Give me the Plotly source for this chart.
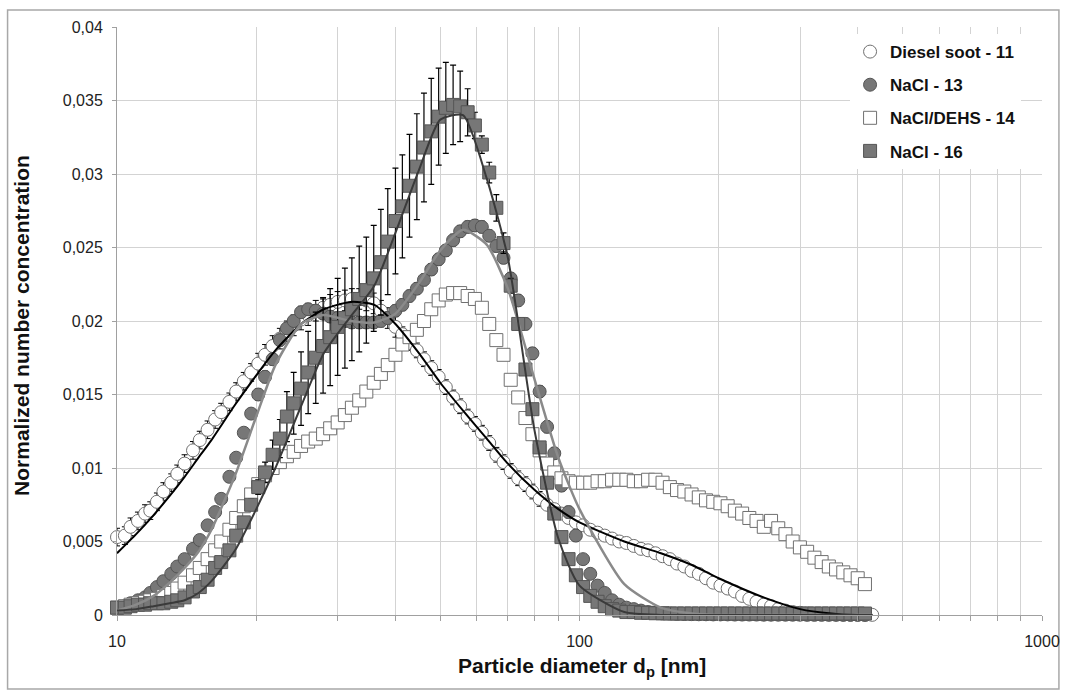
import plotly.graph_objects as go

# ---------------- data ----------------
diam = [10.0, 10.4, 10.7, 11.1, 11.5, 11.8, 12.2, 12.6, 13.1, 13.5,
        14.0, 14.6, 15.1, 15.7, 16.3, 16.8, 17.5, 18.1, 18.8, 19.5,
        20.2, 20.9, 21.7, 22.5, 23.3, 24.1, 25.0, 25.9, 26.9, 27.9,
        28.9, 30.0, 31.1, 32.2, 33.4, 34.6, 35.9, 37.2, 38.5, 40.0,
        41.4, 42.9, 44.5, 46.1, 47.8, 49.6, 51.4, 53.3, 55.2, 57.3,
        59.4, 61.5, 63.8, 66.1, 68.5, 71.0, 73.7, 76.4, 79.1, 82.0,
        85.1, 88.2, 91.4, 94.7, 98.2, 101.8, 105.5, 109.4, 113.4, 117.6,
        121.9, 126.3, 131.0, 135.8, 140.7, 145.9, 151.2, 156.8, 162.5, 168.5,
        174.7, 181.1, 187.7, 194.6, 201.7, 209.1, 216.7, 224.7, 232.9, 241.4,
        250.3, 259.5, 269.0, 278.8, 289.0, 299.6, 310.6, 322.0, 333.8, 346.0,
        358.7, 371.8, 385.4, 399.5, 414.2, 429.4]

diesel_soot_11 = [0.0053, 0.0054, 0.0060, 0.0064, 0.0069, 0.0071, 0.0077, 0.0084, 0.0090, 0.0096,
                  0.0103, 0.0112, 0.0119, 0.0126, 0.0133, 0.0138, 0.0145, 0.0152, 0.0159, 0.0165,
                  0.0171, 0.0177, 0.0183, 0.0188, 0.0193, 0.0197, 0.0201, 0.0204, 0.0207, 0.0209,
                  0.0211, 0.0213, 0.0214, 0.0215, 0.0215, 0.0214, 0.0212, 0.0207, 0.0202, 0.0196,
                  0.0191, 0.0185, 0.0180, 0.0174, 0.0168, 0.0162, 0.0155, 0.0148, 0.0142, 0.0135,
                  0.0130, 0.0124, 0.0117, 0.0109, 0.0104, 0.0098, 0.0093, 0.0089, 0.0084, 0.0079,
                  0.0075, 0.0072, 0.0069, 0.0066, 0.0063, 0.0061, 0.0058, 0.0056, 0.0054, 0.0052,
                  0.0050, 0.0049, 0.0047, 0.0045, 0.0044, 0.0042, 0.0040, 0.0038, 0.0035, 0.0033,
                  0.0030, 0.0028, 0.0025, 0.0022, 0.0020, 0.0018, 0.0016, 0.0013, 0.0011, 0.0009,
                  0.0007, 0.0006, 0.0004, 0.0003, 0.0002, 0.00015, 0.0001, 0.00008, 0.00006, 0.00005,
                  0.00004, 0.00003, 0.00002, 0.00002, 0.00001, 0.00001]
diesel_soot_11_err = [0.0006, 0.0006, 0.0006, 0.0006, 0.0006, 0.0006, 0.0006, 0.0006, 0.0006, 0.0006,
                      0.0006, 0.0006, 0.0006, 0.0006, 0.0006, 0.0006, 0.0006, 0.0006, 0.0006, 0.0006,
                      0.0007, 0.0007, 0.0007, 0.0007, 0.0007, 0.0007, 0.0007, 0.0007, 0.0007, 0.0007,
                      0.0007, 0.0007, 0.0007, 0.0007, 0.0007, 0.0007, 0.0007, 0.0007, 0.0007, 0.0007,
                      0.0005, 0.0005, 0.0005, 0.0005, 0.0005, 0.0005, 0.0005, 0.0005, 0.0005, 0.0005,
                      0.0005, 0.0005, 0.0005, 0.0005, 0.0005, 0.0005, 0.0005, 0.0005, 0.0005, 0.0005,
                      0.0003, 0.0003, 0.0003, 0.0003, 0.0003, 0.0003, 0.0003, 0.0003, 0.0003, 0.0003,
                      0.0003, 0.0003, 0.0003, 0.0003, 0.0003, 0.0003, 0.0003, 0.0003, 0.0003, 0.0003,
                      0.0001, 0.0001, 0.0001, 0.0001, 0.0001, 0.0001, 0.0001, 0.0001, 0.0001, 0.0001,
                      0.0001, 0.0001, 0.0001, 0.0001, 0.0001, 0.0001, 0.0001, 0.0001, 0.0001, 0.0001,
                      0.0001, 0.0001, 0.0001, 0.0001, 0.0001, 0.0001]

nacl_13 = [0.0005, 0.0006, 0.0008, 0.0010, 0.0012, 0.0015, 0.0019, 0.0023, 0.0028, 0.0033,
           0.0038, 0.0045, 0.0051, 0.0061, 0.0070, 0.0079, 0.0094, 0.0107, 0.0124, 0.0137,
           0.0150, 0.0162, 0.0174, 0.0187, 0.0195, 0.0200, 0.0206, 0.0208, 0.0207, 0.0205,
           0.0203, 0.0202, 0.0200, 0.0199, 0.0199, 0.0199, 0.0199, 0.0200, 0.0202, 0.0207,
           0.0211, 0.0217, 0.0222, 0.0228, 0.0235, 0.0242, 0.0248, 0.0255, 0.0261, 0.0264,
           0.0265, 0.0264, 0.0258, 0.0251, 0.0243, 0.0229, 0.0214, 0.0198, 0.0178, 0.0152,
           0.0128, 0.0110, 0.0088, 0.0070, 0.0054, 0.0038, 0.0028, 0.0020, 0.0015, 0.0010,
           0.0007, 0.0005, 0.0004, 0.0003, 0.0002, 0.00015, 0.0001, 0.0001, 0.00008, 0.00007,
           0.00006, 0.00005, 0.00005, 0.00004, 0.00004, 0.00004, 0.00003, 0.00003, 0.00003, 0.00003,
           0.00002, 0.00002, 0.00002, 0.00002, 0.00002, 0.00002, 0.00001, 0.00001, 0.00001, 0.00001,
           0.00001, 0.00001, 0.00001, 0.00001, 0.00001]
nacl_13_err = [0.0002, 0.0002, 0.0002, 0.0002, 0.0002, 0.0002, 0.0002, 0.0002, 0.0002, 0.0002,
               0.0002, 0.0002, 0.0002, 0.0002, 0.0002, 0.0002, 0.0002, 0.0002, 0.0002, 0.0002,
               0.0004, 0.0004, 0.0004, 0.0004, 0.0004, 0.0004, 0.0004, 0.0004, 0.0004, 0.0004,
               0.0004, 0.0004, 0.0004, 0.0004, 0.0004, 0.0004, 0.0004, 0.0004, 0.0004, 0.0004,
               0.0004, 0.0004, 0.0004, 0.0004, 0.0004, 0.0004, 0.0004, 0.0004, 0.0004, 0.0004,
               0.0004, 0.0004, 0.0004, 0.0004, 0.0004, 0.0004, 0.0004, 0.0004, 0.0004, 0.0004,
               0.0004, 0.0004, 0.0004, 0.0004, 0.0004, 0.0002, 0.0002, 0.0002, 0.0002, 0.0002,
               0.0002, 0.0002, 0.0002, 0.0002, 0.0002, 0.00005, 0.00005, 0.00005, 0.00005, 0.00005,
               0.00005, 0.00005, 0.00005, 0.00005, 0.00005, 0.00005, 0.00005, 0.00005, 0.00005, 0.00005,
               0.00005, 0.00005, 0.00005, 0.00005, 0.00005, 0.00005, 0.00005, 0.00005, 0.00005, 0.00005,
               0.00005, 0.00005, 0.00005, 0.00005, 0.00005]

nacl_dehs_14 = [0.0005, 0.0006, 0.0007, 0.0008, 0.0009, 0.0010, 0.0011, 0.0013, 0.0015, 0.0018,
                0.0022, 0.0027, 0.0032, 0.0038, 0.0044, 0.0050, 0.0058, 0.0066, 0.0074, 0.0082,
                0.0089, 0.0095, 0.0100, 0.0104, 0.0108, 0.0111, 0.0115, 0.0118, 0.0120, 0.0123,
                0.0127, 0.0131, 0.0136, 0.0141, 0.0146, 0.0152, 0.0158, 0.0164, 0.0170, 0.0177,
                0.0184, 0.0189, 0.0194, 0.0200, 0.0208, 0.0214, 0.0218, 0.0219, 0.0219, 0.0217,
                0.0215, 0.0209, 0.0198, 0.0187, 0.0177, 0.0160, 0.0148, 0.0134, 0.0123, 0.0112,
                0.0103, 0.0097, 0.0093, 0.0091, 0.0090, 0.0090, 0.0090, 0.0091, 0.0091, 0.0092,
                0.0092, 0.0092, 0.0091, 0.0091, 0.0092, 0.0092, 0.0090, 0.0087, 0.0085, 0.0084,
                0.0082, 0.0080, 0.0078, 0.0077, 0.0076, 0.0074, 0.0071, 0.0069, 0.0066, 0.0064,
                0.0060, 0.0064, 0.0059, 0.0055, 0.0050, 0.0046, 0.0043, 0.0039, 0.0036, 0.0033,
                0.0031, 0.0029, 0.0027, 0.0025, 0.0021]

nacl_16 = [0.0005, 0.0005, 0.0006, 0.0007, 0.0007, 0.0008, 0.0008, 0.0008, 0.0009, 0.0010,
           0.0012, 0.0016, 0.0019, 0.0024, 0.0032, 0.0036, 0.0044, 0.0054, 0.0063, 0.0075,
           0.0087, 0.0097, 0.0109, 0.0120, 0.0135, 0.0144, 0.0154, 0.0165, 0.0175, 0.0183,
           0.0189, 0.0196, 0.0202, 0.0208, 0.0215, 0.0221, 0.0229, 0.0240, 0.0254, 0.0268,
           0.0278, 0.0292, 0.0305, 0.0318, 0.0329, 0.0339, 0.0345, 0.0347, 0.0346, 0.0342,
           0.0333, 0.0320, 0.0301, 0.0277, 0.0253, 0.0224, 0.0198, 0.0167, 0.0140, 0.0114,
           0.0090, 0.0069, 0.0053, 0.0038, 0.0027, 0.0019, 0.0013, 0.0009, 0.0006, 0.0004,
           0.0003, 0.0002, 0.0002, 0.00015, 0.00015, 0.00012, 0.00012, 0.0001, 0.0001, 0.0001,
           0.0001, 0.0001, 0.0001, 0.0001, 0.0001, 0.0001, 0.0001, 0.0001, 0.0001, 0.0001,
           0.0001, 0.0001, 0.0001, 0.0001, 0.0001, 0.0001, 0.0001, 0.0001, 0.0001, 0.0001,
           0.0001, 0.0001, 0.0001, 0.0001, 0.0001]
nacl_16_err = [0.0001, 0.0001, 0.0001, 0.0001, 0.0001, 0.0001, 0.0001, 0.0001, 0.0001, 0.0001,
               0.0001, 0.0002, 0.0002, 0.0002, 0.0003, 0.0003, 0.0003, 0.0004, 0.0004, 0.0004,
               0.0005, 0.0007, 0.0010, 0.0013, 0.0017, 0.0021, 0.0025, 0.0028, 0.0031, 0.0032,
               0.0033, 0.0033, 0.0034, 0.0035, 0.0036, 0.0036, 0.0036, 0.0036, 0.0036, 0.0036,
               0.0035, 0.0035, 0.0036, 0.0037, 0.0036, 0.0033, 0.0031, 0.0027, 0.0024, 0.0016,
               0.0009, 0.0006, 0.0007, 0.0009, 0.0007, 0.0005, 0.0004, 0.0004, 0.0003, 0.0003,
               0.0003, 0.0003, 0.0002, 0.0002, 0.0002, 0.0002, 0.0001, 0.0001, 0.0001, 0.0001,
               0.00005, 0.00005, 0.00005, 0.00005, 0.00005, 0.00005, 0.00005, 0.00005, 0.00005, 0.00005,
               0.00005, 0.00005, 0.00005, 0.00005, 0.00005, 0.00005, 0.00005, 0.00005, 0.00005, 0.00005,
               0.00005, 0.00005, 0.00005, 0.00005, 0.00005, 0.00005, 0.00005, 0.00005, 0.00005, 0.00005,
               0.00005, 0.00005, 0.00005, 0.00005, 0.00005]

# fitted (lognormal) curves
fit_d = [10, 11, 12, 13, 14, 15, 16, 18, 20, 22, 25, 28, 32, 36, 40, 45, 50, 56, 63, 70,
         80, 90, 100, 125, 150, 175, 200, 250, 300, 350, 400, 430]
diesel_fit = [0.0042, 0.0055, 0.0068, 0.0081, 0.0094, 0.0107, 0.0119, 0.0143, 0.0163, 0.0180,
              0.0198, 0.0208, 0.0213, 0.0211, 0.0198, 0.0178, 0.0158, 0.0139, 0.0120, 0.0103,
              0.0085, 0.0072, 0.0063, 0.0050, 0.0042, 0.0034, 0.0025, 0.0012, 0.0004, 0.0001,
              0.0, 0.0]
nacl_13_fit = [0.0003, 0.0007, 0.0013, 0.0022, 0.0032, 0.0043, 0.0058, 0.0095, 0.0135, 0.0170,
               0.0198, 0.0204, 0.0200, 0.0199, 0.0205, 0.0226, 0.0248, 0.0262, 0.0252, 0.0222,
               0.0160, 0.0107, 0.0072, 0.0021, 0.0005, 0.0001, 0.0, 0.0, 0.0, 0.0,
               0.0, 0.0]
nacl_16_fit = [0.0003, 0.0004, 0.0006, 0.0008, 0.0010, 0.0015, 0.0023, 0.0044, 0.0072, 0.0100,
               0.0142, 0.0178, 0.0203, 0.0224, 0.0260, 0.0303, 0.0337, 0.0340, 0.0297, 0.0243,
               0.0125, 0.0052, 0.0020, 0.0002, 0.0, 0.0, 0.0, 0.0, 0.0, 0.0,
               0.0, 0.0]

y_tick_vals = [0, 0.005, 0.01, 0.015, 0.02, 0.025, 0.03, 0.035, 0.04]
y_tick_text = ["0", "0,005", "0,01", "0,015", "0,02", "0,025", "0,03", "0,035", "0,04"]
x_tick_vals = [10, 100, 1000]
x_tick_text = ["10", "100", "1000"]
x_minor_vals = [20, 30, 40, 50, 60, 70, 80, 90, 200, 300, 400, 500, 600, 700, 800, 900]

# ---------------- figure ----------------
FONT = "Liberation Sans, Arial, sans-serif"
GRID = "#d3d3d3"
AXC = "#a0a0a0"
GRAY_FILL = "#777777"
GRAY_EDGE = "#555555"
OPEN_EDGE = "#707070"

fig = go.Figure()

fig.add_trace(go.Scatter(
    x=diam[:len(diesel_soot_11)], y=diesel_soot_11, mode="markers",
    name="Diesel soot - 11", legendgroup="g1",
    marker=dict(symbol="circle", size=13, color="white", line=dict(color=OPEN_EDGE, width=1)),
    error_y=dict(type="data", array=diesel_soot_11_err, color="black", thickness=1, width=3),
    cliponaxis=False))

fig.add_trace(go.Scatter(
    x=diam[:len(nacl_13)], y=nacl_13, mode="markers",
    name="NaCl - 13", legendgroup="g2",
    marker=dict(symbol="circle", size=13, color=GRAY_FILL, line=dict(color=GRAY_EDGE, width=1)),
    error_y=dict(type="data", array=nacl_13_err, color="black", thickness=1, width=3),
    cliponaxis=False))

fig.add_trace(go.Scatter(
    x=diam[:len(nacl_dehs_14)], y=nacl_dehs_14, mode="markers",
    name="NaCl/DEHS - 14", legendgroup="g3",
    marker=dict(symbol="square", size=13, color="white", line=dict(color=OPEN_EDGE, width=1)),
    cliponaxis=False))

fig.add_trace(go.Scatter(
    x=diam[:len(nacl_16)], y=nacl_16, mode="markers",
    name="NaCl - 16", legendgroup="g4",
    marker=dict(symbol="square", size=13, color=GRAY_FILL, line=dict(color=GRAY_EDGE, width=1)),
    error_y=dict(type="data", array=nacl_16_err, color="black", thickness=1.2, width=3),
    cliponaxis=False))

fig.add_trace(go.Scatter(x=fit_d, y=diesel_fit, mode="lines", showlegend=False, hoverinfo="skip",
                         line=dict(color="black", width=2, shape="spline", smoothing=0.6)))
fig.add_trace(go.Scatter(x=fit_d, y=nacl_13_fit, mode="lines", showlegend=False, hoverinfo="skip",
                         line=dict(color="#8a8a8a", width=2.5, shape="spline", smoothing=0.6)))
fig.add_trace(go.Scatter(x=fit_d, y=nacl_16_fit, mode="lines", showlegend=False, hoverinfo="skip",
                         line=dict(color="#3a3a3a", width=2, shape="spline", smoothing=0.6)))

fig.update_layout(
    width=1072, height=697,
    margin=dict(l=117, r=25, t=27, b=82),
    paper_bgcolor="white", plot_bgcolor="white",
    font=dict(family=FONT, color="#222222", size=16),
    showlegend=True,
    legend=dict(x=0.7925, y=0.988, xanchor="left", yanchor="top",
                bgcolor="white", borderwidth=0, traceorder="grouped", tracegroupgap=8,
                font=dict(family=FONT, size=17, color="#111111", weight="bold")),
    xaxis=dict(type="log", range=[1, 3], tickmode="array", tickvals=x_tick_vals, ticktext=x_tick_text,
               showgrid=True, gridcolor=GRID, gridwidth=1,
               showline=True, linecolor=AXC, linewidth=1,
               ticks="outside", ticklen=5, tickcolor=AXC, ticklabelstandoff=7,
               tickfont=dict(size=16, color="#222222"),
               minor=dict(tickvals=x_minor_vals, showgrid=True, gridcolor=GRID, gridwidth=1,
                          ticks="outside", ticklen=5, tickcolor=AXC),
               zeroline=False),
    yaxis=dict(range=[0, 0.04], tickmode="array", tickvals=y_tick_vals, ticktext=y_tick_text,
               showgrid=True, gridcolor=GRID, gridwidth=1,
               showline=True, linecolor=AXC, linewidth=1,
               ticks="outside", ticklen=4, tickcolor=AXC, ticklabelstandoff=6,
               tickfont=dict(size=16, color="#222222"),
               zeroline=False),
    annotations=[
        dict(text="<b>Normalized number concentration</b>", xref="paper", yref="paper",
             x=-0.104, y=0.493, xanchor="center", yanchor="middle", textangle=-90,
             showarrow=False, font=dict(family=FONT, size=21, color="#111111")),
        dict(text="<b>Particle diameter d<sub>p</sub> [nm]</b>", xref="paper", yref="paper",
             x=0.503, y=-0.089, xanchor="center", yanchor="middle",
             showarrow=False, font=dict(family=FONT, size=21, color="#111111")),
    ],
    shapes=[dict(type="rect", xref="paper", yref="paper",
                 x0=-0.1183, x1=1.0183, y0=-0.1259, y1=1.0289,
                 line=dict(color="#a8a8a8", width=1.5), fillcolor="rgba(0,0,0,0)", layer="below")],
)

fig.write_html("out.html")
